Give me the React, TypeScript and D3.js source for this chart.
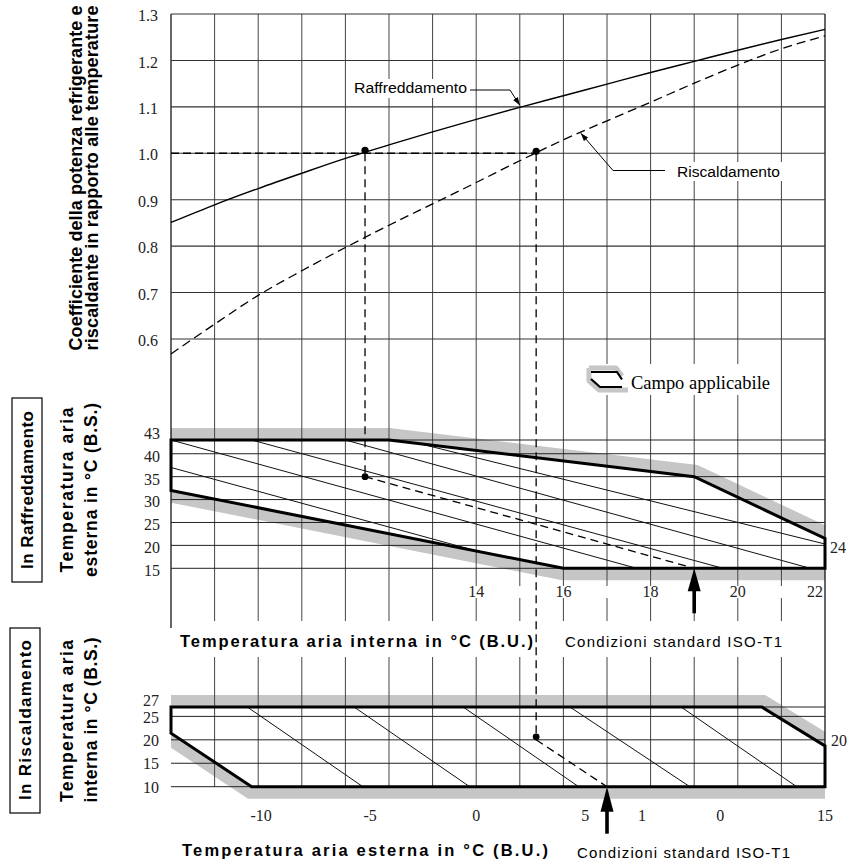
import React from "react";
import * as d3 from "d3";

// ---------- DATA ----------
const curveX = [7, 8, 9, 10, 11, 12, 13, 14, 15, 16, 17, 18, 19, 20, 21, 22];
const coolCoef = [0.851, 0.889, 0.924, 0.957, 0.989, 1.018, 1.046, 1.073, 1.099, 1.124, 1.149, 1.174, 1.198, 1.222, 1.245, 1.267];
const heatCoef = [0.568, 0.632, 0.694, 0.747, 0.797, 0.845, 0.891, 0.937, 0.984, 1.029, 1.07, 1.11, 1.151, 1.19, 1.225, 1.253];

const topYTicks = [0.6, 0.7, 0.8, 0.9, 1.0, 1.1, 1.2, 1.3];
const coolYTicks = [15, 20, 25, 30, 35, 40, 43];
const heatYTicks = [10, 15, 20, 25, 27];
const coolXLabels = [14, 16, 18, 20, 22];
const heatXLabelVals = [-10, -5, 0, 5, 7.6, 11.2, 16];
const heatXLabelText = ["-10", "-5", "0", "5", "1", "0", "15"];
const coolGridX = d3.range(7, 23, 1);
const heatGridX = d3.range(-12, 15, 2);

// applicable ranges (indoor WB, outdoor DB) and (outdoor WB, indoor DB)
const coolRangeV = [7, 12, 19, 22, 22, 16, 7];
const coolRangeT = [43, 43, 35, 21.5, 15, 15, 32];
const heatRangeV = [-14, 13.1, 16, 16, -10.3, -14];
const heatRangeT = [27, 27, 18.7, 10, 10, 21.4];

// guide lines [v1, t1, v2, t2]
const coolGuides = [
  [7, 43, 17.68, 15],
  [7, 37, 14.04, 18.7],
  [8.85, 43, 19.66, 15],
  [11, 43, 21.66, 15],
  [12.7, 42.2, 22, 20.3],
];
const heatGuides = [
  [-10.5, 27, -5.2, 10],
  [-5.6, 27, -0.3, 10],
  [-0.6, 27, 4.7, 10],
  [4.3, 27, 9.8, 10],
  [9.4, 27, 14.7, 10],
];

// standard conditions
const coolStd = { indoorWB: 19, outdoorDB: 35, refX: 11.45, coef: 1.0, minT: 15 };
const heatStd = { outdoorWB: 6, indoorDB: 20, refX: 2.75, coef: 1.0, minT: 10 };

const SANS = "'Liberation Sans', Arial, Helvetica, sans-serif";
const SERIF = "'Liberation Serif', 'Times New Roman', serif";

export default function App() {
  const L = 171, R = 825, TOP = 14;
  const xC = d3.scaleLinear().domain([7, 22]).range([L, R]);
  const yT = d3.scaleLinear().domain([0.6, 1.3]).range([339, TOP]);
  const yC = d3.scaleLinear().domain([15, 43]).range([568.3, 440]);
  const xH = d3.scaleLinear().domain([-14, 16]).range([L, R]);
  const yH = d3.scaleLinear().domain([10, 27]).range([786.7, 707]);

  const coolLine = d3.line<number>().x((_, i) => xC(curveX[i])).y((d) => yT(d)).curve(d3.curveMonotoneX);
  const coolCurvePath = coolLine(coolCoef) || "";
  const heatCurvePath = coolLine(heatCoef) || "";

  const coolPoly = (d3.line()(coolRangeV.map((v, i) => [xC(v), yC(coolRangeT[i])] as [number, number])) || "") + "Z";
  const heatPoly = (d3.line()(heatRangeV.map((v, i) => [xH(v), yH(heatRangeT[i])] as [number, number])) || "") + "Z";

  const interp = d3.scaleLinear().domain(curveX).range(heatCoef);
  const interpC = d3.scaleLinear().domain(curveX).range(coolCoef);

  const gridV = "#444";
  const fmt = d3.format(".1f");

  const rTipX = xC(15), rTipY = yT(interpC(15)) - 2;
  const hTipV = 16.4;
  const hTipX = xC(hTipV), hTipY = yT(interp(hTipV)) + 1;

  const coolArrowX = xC(coolStd.indoorWB);
  const coolArrowY = yC(coolStd.minT);
  const heatArrowX = xH(heatStd.outdoorWB);
  const heatArrowY = yH(heatStd.minT);

  const heatRefX = xH(heatStd.refX);

  return (
    <svg width={848} height={865} style={{ position: "absolute", left: 0, top: 0, background: "#fff" }}>
      <defs>
        <clipPath id="coolBandClip">
          <path clipRule="evenodd" d={`M${L},395H${R}V605H${L}Z ${coolPoly}`} />
        </clipPath>
        <clipPath id="heatBandClip">
          <path clipRule="evenodd" d={`M${L},685H${R}V810H${L}Z ${heatPoly}`} />
        </clipPath>
        <marker id="ah" viewBox="0 0 10 10" refX="10" refY="5" markerWidth="8" markerHeight="8" orient="auto">
          <path d="M0,1.5 L10,5 L0,8.5 Z" fill="#000" />
        </marker>
      </defs>
      <rect x={0} y={0} width={848} height={865} fill="#fff" />

      {/* gray applicable bands */}
      <path d={coolPoly} fill="none" stroke="#c6c6c6" strokeWidth={24} strokeLinejoin="miter" clipPath="url(#coolBandClip)" />
      <path d={heatPoly} fill="none" stroke="#c6c6c6" strokeWidth={24} strokeLinejoin="miter" clipPath="url(#heatBandClip)" />

      {/* vertical grid (top + cooling) */}
      {coolGridX.map((v) => (
        <line key={"vg" + v} x1={xC(v)} x2={xC(v)} y1={TOP} y2={v === 7 ? 628 : v === 22 ? 787 : 621} stroke={v === 7 || v === 22 ? "#000" : gridV} strokeWidth={v === 7 || v === 22 ? 1.2 : 1} />
      ))}
      {topYTicks.map((t) => (
        <line key={"hg" + t} x1={L} x2={R} y1={yT(t)} y2={yT(t)} stroke="#333" strokeWidth={1.1} />
      ))}
      {coolYTicks.map((t) => (
        <line key={"cg" + t} x1={L} x2={R} y1={yC(t)} y2={yC(t)} stroke="#222" strokeWidth={1} />
      ))}
      {heatGridX.map((v) => (
        <line key={"hv" + v} x1={xH(v)} x2={xH(v)} y1={657} y2={yH(10)} stroke={gridV} strokeWidth={1} />
      ))}
      {heatYTicks.map((t) => (
        <line key={"hh" + t} x1={L} x2={R} y1={yH(t)} y2={yH(t)} stroke="#222" strokeWidth={1} />
      ))}

      {/* guide lines */}
      {coolGuides.map((g, i) => (
        <line key={"cgd" + i} x1={xC(g[0])} y1={yC(g[1])} x2={xC(g[2])} y2={yC(g[3])} stroke="#111" strokeWidth={1} />
      ))}
      {heatGuides.map((g, i) => (
        <line key={"hgd" + i} x1={xH(g[0])} y1={yH(g[1])} x2={xH(g[2])} y2={yH(g[3])} stroke="#111" strokeWidth={1} />
      ))}

      {/* applicable range outlines */}
      <path d={coolPoly} fill="none" stroke="#000" strokeWidth={3} strokeLinejoin="miter" />
      <path d={heatPoly} fill="none" stroke="#000" strokeWidth={3} strokeLinejoin="miter" />

      {/* white band behind cooling x labels */}
      <rect x={xC(13.5)} y={586} width={R - 1 - xC(13.5)} height={12} fill="#fff" />

      {/* curves */}
      <path d={coolCurvePath} fill="none" stroke="#000" strokeWidth={1.4} />
      <path d={heatCurvePath} fill="none" stroke="#000" strokeWidth={1.3} strokeDasharray="9,5" />

      {/* dashed reading lines */}
      <line x1={L} x2={heatRefX} y1={yT(1.0)} y2={yT(1.0)} stroke="#000" strokeWidth={1.5} strokeDasharray="8,4" />
      <line x1={xC(coolStd.refX)} x2={xC(coolStd.refX)} y1={yT(coolStd.coef)} y2={yC(coolStd.outdoorDB)} stroke="#000" strokeWidth={1.3} strokeDasharray="8,5" />
      <line x1={xC(coolStd.refX)} y1={yC(coolStd.outdoorDB)} x2={coolArrowX} y2={coolArrowY} stroke="#000" strokeWidth={1.3} strokeDasharray="8,5" />
      <line x1={heatRefX} x2={heatRefX} y1={yT(heatStd.coef)} y2={yH(heatStd.indoorDB)} stroke="#000" strokeWidth={1.3} strokeDasharray="8,5" />
      <line x1={heatRefX} y1={yH(heatStd.indoorDB)} x2={heatArrowX} y2={heatArrowY} stroke="#000" strokeWidth={1.3} strokeDasharray="8,5" />

      {/* dots */}
      <circle cx={xC(coolStd.refX)} cy={yT(coolStd.coef) - 3} r={3.6} fill="#000" />
      <circle cx={heatRefX} cy={yT(heatStd.coef) - 2} r={3.6} fill="#000" />
      <circle cx={xC(coolStd.refX)} cy={yC(coolStd.outdoorDB)} r={3.4} fill="#000" />
      <circle cx={heatRefX} cy={yH(heatStd.indoorDB) - 3} r={3.4} fill="#000" />

      {/* arrows */}
      <path d={`M${coolArrowX},${coolArrowY} L${coolArrowX - 6.5},${coolArrowY + 23} L${coolArrowX + 6.5},${coolArrowY + 23} Z`} fill="#000" />
      <rect x={coolArrowX - 1.8} y={coolArrowY + 20} width={3.6} height={25} fill="#000" />
      <path d={`M${heatArrowX},${heatArrowY} L${heatArrowX - 6.5},${heatArrowY + 25} L${heatArrowX + 6.5},${heatArrowY + 25} Z`} fill="#000" />
      <rect x={heatArrowX - 1.8} y={heatArrowY + 22} width={3.6} height={25} fill="#000" />

      {/* curve labels */}
      <rect x={350} y={79} width={121} height={19} fill="#fff" />
      <text x={354} y={88} dy="0.35em" fontFamily={SANS} fontSize={15.5} textLength={113} lengthAdjust="spacingAndGlyphs">Raffreddamento</text>
      <path d={`M470,90 H510 L${rTipX},${rTipY}`} fill="none" stroke="#000" strokeWidth={1} markerEnd="url(#ah)" />
      <rect x={672} y={162} width={112} height={19} fill="#fff" />
      <text x={677} y={172} dy="0.35em" fontFamily={SANS} fontSize={15.5} textLength={103} lengthAdjust="spacingAndGlyphs">Riscaldamento</text>
      <path d={`M665,170.5 H613 L${hTipX},${hTipY}`} fill="none" stroke="#000" strokeWidth={1} markerEnd="url(#ah)" />

      {/* legend */}
      <rect x={587} y={364} width={186} height={31} fill="#fff" />
      <path d="M589,368 H616 L622,376 M589,368 V381 L599,390 H628" fill="none" stroke="#c6c6c6" strokeWidth={5} strokeLinejoin="round" />
      <path d="M591,372 H617 L622,379.5" fill="none" stroke="#000" strokeWidth={2.2} />
      <path d="M591,379 L600,387 H622" fill="none" stroke="#000" strokeWidth={2.2} />
      <text x={631} y={382.5} dy="0.35em" fontFamily={SERIF} fontSize={18} textLength={139} lengthAdjust="spacingAndGlyphs">Campo applicabile</text>

      {/* y tick labels */}
      {topYTicks.map((t) => (
        <text key={"ty" + t} x={158} y={yT(t) + 1.5} dy="0.35em" textAnchor="end" fontFamily={SERIF} fontSize={16} fill="#222">{fmt(t)}</text>
      ))}
      {coolYTicks.map((t) => (
        <text key={"cy" + t} x={160} y={yC(t) + (t === 43 ? -7 : 2.3)} dy="0.35em" textAnchor="end" fontFamily={SERIF} fontSize={16} fill="#222">{t}</text>
      ))}
      {heatYTicks.map((t) => (
        <text key={"hy" + t} x={159} y={yH(t) + (t === 27 ? -7 : 0.6)} dy="0.35em" textAnchor="end" fontFamily={SERIF} fontSize={16} fill="#222">{t}</text>
      ))}

      {/* x tick labels */}
      {coolXLabels.map((v) => (
        <text key={"cx" + v} x={v === 22 ? xC(v) - 10 : xC(v)} y={591.7} dy="0.35em" textAnchor="middle" fontFamily={SERIF} fontSize={16} fill="#222">{v}</text>
      ))}
      <text x={830} y={yC(20) + 2.3} dy="0.35em" fontFamily={SERIF} fontSize={16} fill="#222">24</text>
      {heatXLabelVals.map((v, i) => (
        <text key={"hx" + i} x={xH(v) + (v < 0 ? 3 : 0)} y={815} dy="0.35em" textAnchor="middle" fontFamily={SERIF} fontSize={16} fill="#222">{heatXLabelText[i]}</text>
      ))}
      <text x={831} y={yH(20) + 1} dy="0.35em" fontFamily={SERIF} fontSize={16} fill="#222">20</text>

      {/* axis titles */}
      <text x={180} y={641} dy="0.35em" fontFamily={SANS} fontWeight="bold" fontSize={16.5} textLength={353} lengthAdjust="spacing">Temperatura aria interna in °C (B.U.)</text>
      <text x={565} y={641.5} dy="0.35em" fontFamily={SANS} fontSize={15} textLength={217} lengthAdjust="spacing">Condizioni standard ISO-T1</text>
      <text x={182} y={850} dy="0.35em" fontFamily={SANS} fontWeight="bold" fontSize={16.5} textLength={366} lengthAdjust="spacing">Temperatura aria esterna in °C (B.U.)</text>
      <text x={577} y={853} dy="0.35em" fontFamily={SANS} fontSize={15} textLength={213} lengthAdjust="spacing">Condizioni standard ISO-T1</text>

      {/* rotated titles */}
      <g fontFamily={SANS} fontWeight="bold">
        <text transform="translate(76,178) rotate(-90)" dy="0.35em" textAnchor="middle" fontSize={18} textLength={345} lengthAdjust="spacing">Coefficiente della potenza refrigerante e</text>
        <text transform="translate(91.5,178) rotate(-90)" dy="0.35em" textAnchor="middle" fontSize={18} textLength={345} lengthAdjust="spacing">riscaldante in rapporto alle temperature</text>
        <text transform="translate(67,490) rotate(-90)" dy="0.35em" textAnchor="middle" fontSize={17.5} textLength={165} lengthAdjust="spacing">Temperatura aria</text>
        <text transform="translate(91,490) rotate(-90)" dy="0.35em" textAnchor="middle" fontSize={17.5} textLength={174} lengthAdjust="spacing">esterna in °C (B.S.)</text>
        <text transform="translate(67,721) rotate(-90)" dy="0.35em" textAnchor="middle" fontSize={17.5} textLength={162} lengthAdjust="spacing">Temperatura aria</text>
        <text transform="translate(91,720) rotate(-90)" dy="0.35em" textAnchor="middle" fontSize={17.5} textLength={165} lengthAdjust="spacing">interna in °C (B.S.)</text>
        <rect x={12} y={398} width={30} height={184} fill="none" stroke="#000" strokeWidth={1.2} />
        <text transform="translate(27.5,490) rotate(-90)" dy="0.35em" textAnchor="middle" fontSize={17} textLength={158} lengthAdjust="spacing">In Raffreddamento</text>
        <rect x={10} y={628} width={30} height={185} fill="none" stroke="#000" strokeWidth={1.2} />
        <text transform="translate(25.5,720) rotate(-90)" dy="0.35em" textAnchor="middle" fontSize={17} textLength={160} lengthAdjust="spacing">In Riscaldamento</text>
      </g>
    </svg>
  );
}
